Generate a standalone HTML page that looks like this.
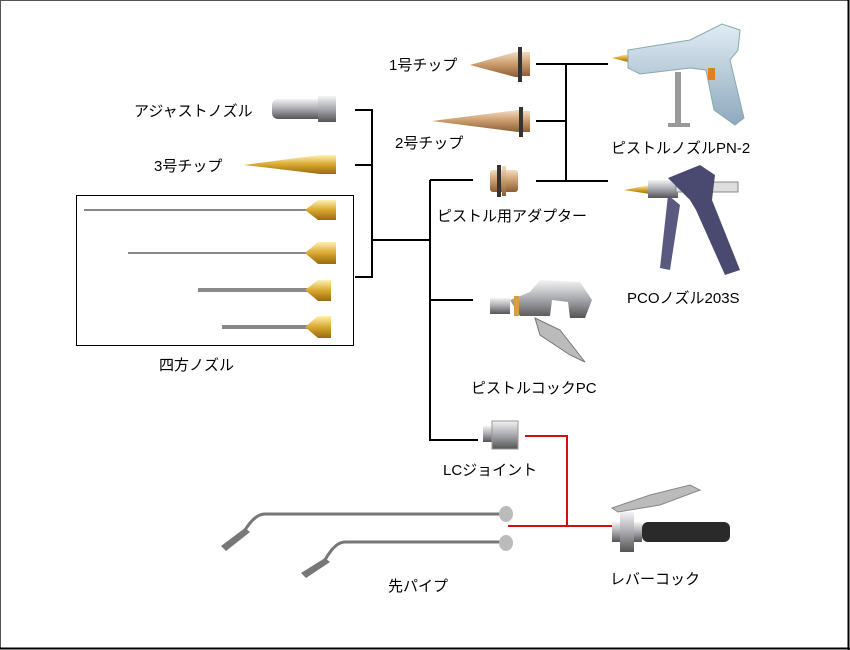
<!DOCTYPE html>
<html><head><meta charset="utf-8"><style>
html,body{margin:0;padding:0;background:#fff;}
svg{display:block;}
text{font-family:"Liberation Sans","Noto Sans CJK JP",sans-serif;font-size:15px;fill:#000;}
</style></head><body>
<svg width="850" height="650" viewBox="0 0 850 650" xmlns="http://www.w3.org/2000/svg">
<defs>
<linearGradient id="brass" x1="0" y1="0" x2="0" y2="1"><stop offset="0" stop-color="#f3dcc0"/><stop offset="0.5" stop-color="#c99a6a"/><stop offset="1" stop-color="#8a5e38"/></linearGradient>
<linearGradient id="gold" x1="0" y1="0" x2="0" y2="1"><stop offset="0" stop-color="#fff0b0"/><stop offset="0.5" stop-color="#d9a830"/><stop offset="1" stop-color="#9a6a10"/></linearGradient>
<linearGradient id="steel" x1="0" y1="0" x2="0" y2="1"><stop offset="0" stop-color="#f4f4f4"/><stop offset="0.5" stop-color="#a8a8b0"/><stop offset="1" stop-color="#555"/></linearGradient>
<linearGradient id="blue" x1="0" y1="0" x2="0" y2="1"><stop offset="0" stop-color="#e0ecf4"/><stop offset="1" stop-color="#8fa9bd"/></linearGradient>
</defs>
<rect x="0.5" y="0.5" width="848" height="648" fill="#fff" stroke="#555" stroke-width="1"/>
<line x1="848.5" y1="0" x2="848.5" y2="650" stroke="#000" stroke-width="2"/>
<line x1="0" y1="648.5" x2="850" y2="648.5" stroke="#000" stroke-width="2"/>

<g stroke="#000" stroke-width="2" fill="none">
<path d="M355 110H372V277H355M355 165H372M372 240H430M430 180H473M430 180V440H478M430 300H473"/>
<path d="M536 64H608M536 121H566M536 181H608M566 64V181"/>
</g>
<path d="M525 436H567V526H508M567 526H612" stroke="#d01010" stroke-width="2" fill="none"/>

<rect x="76.5" y="195.5" width="277" height="150" fill="none" stroke="#000" stroke-width="1"/>

<rect x="272" y="99" width="52" height="20" rx="6" fill="url(#steel)"/>
<rect x="318" y="96" width="18" height="26" fill="url(#steel)"/>
<polygon points="244,165 320,155 336,155 336,174 320,174" fill="url(#gold)"/>
<g stroke="#888" stroke-width="2">
<line x1="84" y1="210" x2="310" y2="210"/><line x1="128" y1="253" x2="310" y2="253"/>
<line x1="198" y1="290" x2="310" y2="290" stroke-width="4"/><line x1="222" y1="327" x2="310" y2="327" stroke-width="4"/>
</g>
<g fill="url(#gold)">
<polygon points="305,210 318,200 336,200 336,220 318,220"/>
<polygon points="305,253 318,242 336,242 336,264 318,264"/>
<polygon points="305,290 318,280 331,280 331,301 318,301"/>
<polygon points="305,327 318,316 331,316 331,338 318,338"/>
</g>

<polygon points="470,65 515,52 522,52 522,77 515,77" fill="url(#brass)"/>
<rect x="518" y="47" width="4" height="35" fill="#333"/><rect x="522" y="52" width="8" height="24" fill="url(#brass)"/>
<polygon points="432,121 518,110 522,110 522,132 518,132" fill="url(#brass)"/>
<rect x="519" y="107" width="4" height="30" fill="#333"/><rect x="523" y="111" width="7" height="21" fill="url(#brass)"/>
<rect x="490" y="170" width="28" height="22" rx="3" fill="url(#brass)"/>
<rect x="497" y="165" width="4" height="32" fill="#333"/><rect x="502" y="166" width="4" height="30" fill="url(#brass)"/>

<polygon points="612,58 628,54 628,62" fill="url(#gold)"/>
<path d="M628 50 L690 40 L722 24 L740 30 L738 50 L730 60 L744 118 L735 125 L714 110 L706 70 L690 68 L640 74 L628 68Z" fill="url(#blue)" stroke="#8aa" stroke-width="1"/>
<rect x="675" y="72" width="6" height="52" fill="#999"/><rect x="668" y="123" width="22" height="4" fill="#999"/>
<rect x="708" y="68" width="7" height="12" fill="#e08020"/>
<polygon points="624,190 650,185 650,194" fill="url(#gold)"/>
<rect x="648" y="180" width="30" height="18" fill="url(#steel)"/>
<rect x="676" y="182" width="62" height="10" fill="#ddd" stroke="#888"/>
<path d="M668 178 L700 165 L715 175 L712 200 L740 270 L725 275 L696 210 L690 200 Z" fill="#4a4a70"/>
<path d="M668 195 L680 205 L670 270 L660 268 Z" fill="#5a5a80"/>

<rect x="490" y="298" width="20" height="16" fill="url(#steel)"/>
<path d="M510 300 L530 292 L540 280 L580 282 L592 300 L585 318 L570 318 L568 302 L552 300 L550 316 L520 316 Z" fill="url(#steel)"/>
<rect x="514" y="296" width="5" height="20" fill="#d4a040"/>
<path d="M535 318 L560 330 L585 362 L570 355 L540 335 Z" fill="#bbb" stroke="#777"/>

<rect x="483" y="426" width="10" height="16" fill="url(#steel)"/>
<rect x="492" y="421" width="26" height="28" fill="url(#steel)" stroke="#999"/>

<g fill="none" stroke="#777" stroke-width="3">
<path d="M500 514 H265 Q255 514 245 530"/>
<path d="M500 542 H345 Q335 542 325 560"/>
</g>
<g fill="#777"><polygon points="245,528 250,532 226,551 221,546"/><polygon points="325,558 330,562 306,578 301,573"/></g>
<g fill="#bbb"><ellipse cx="506" cy="514" rx="7" ry="8"/><ellipse cx="506" cy="543" rx="7" ry="8"/></g>
<path d="M612 508 L650 495 L690 485 L700 490 L660 505 L618 512Z" fill="#bbb" stroke="#888"/>
<rect x="612" y="522" width="30" height="20" fill="url(#steel)"/>
<rect x="620" y="512" width="14" height="40" fill="url(#steel)"/>
<rect x="642" y="522" width="88" height="20" rx="6" fill="#2a2a2a"/>

<text x="134" y="116">アジャストノズル</text>
<text x="154" y="171">3号チップ</text>
<text x="159" y="370">四方ノズル</text>
<text x="389" y="70">1号チップ</text>
<text x="395" y="148">2号チップ</text>
<text x="437" y="221">ピストル用アダプター</text>
<text x="611" y="153">ピストルノズルPN-2</text>
<text x="627" y="303">PCOノズル203S</text>
<text x="471" y="393">ピストルコックPC</text>
<text x="443" y="475">LCジョイント</text>
<text x="388" y="591">先パイプ</text>
<text x="610" y="584">レバーコック</text>
</svg>
</body></html>
